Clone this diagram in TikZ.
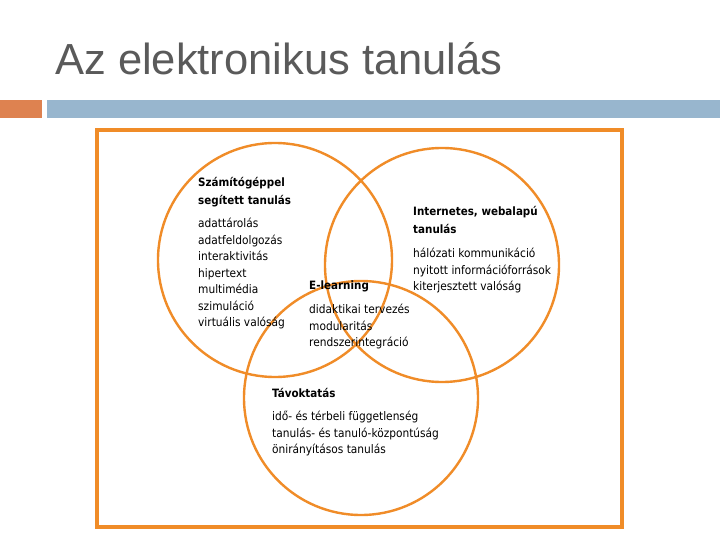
\documentclass[tikz,border=0pt]{standalone}
\usepackage{fontspec}
\setmainfont{Liberation Sans}
\newfontfamily\cond{DejaVu Sans Condensed}
\definecolor{frameor}{RGB}{240,140,40}
\definecolor{baror}{RGB}{222,130,80}
\definecolor{barbl}{RGB}{152,182,206}
\definecolor{titlegr}{RGB}{90,90,90}
\begin{document}
\begin{tikzpicture}[x=1pt,y=-1pt,
  circ/.style={draw=frameor,line width=2.4pt},
  txt/.style={anchor=north west,inner sep=0pt,align=left,font=\cond\fontsize{11.8}{16.5}\selectfont},
  head/.style={txt,font=\cond\bfseries\fontsize{11.5}{18}\selectfont}]
\useasboundingbox (0,0) rectangle (720,540);
\fill[white] (0,0) rectangle (720,540);
\node[anchor=base west,inner sep=0pt,text=titlegr,font=\fontsize{43.5}{48}\selectfont] (title) at (55,75) {Az elektronikus tanulás};
\fill[baror] (0,100) rectangle (42,118);
\fill[barbl] (47,100) rectangle (720,118);
\draw[frameor,line width=4pt] (97,130) rectangle (622,527);
\draw[circ] (275,260) circle (117);
\draw[circ] (442,265) circle (117);
\draw[circ] (361,398) circle (117);
\node[head] (h1) at (198,177) {Számítógéppel\\segített tanulás};
\node[txt] (l1) at (198,218) {adattárolás\\adatfeldolgozás\\interaktivitás\\hipertext\\multimédia\\szimuláció\\virtuális valóság};
\node[head] (h2) at (413,206) {Internetes, webalapú\\tanulás};
\node[txt] (l2) at (413,248) {hálózati kommunikáció\\nyitott információforrások\\kiterjesztett valóság};
\node[head] (h3) at (309,281) {E-learning};
\node[txt] (l3) at (309,304) {didaktikai tervezés\\modularitás\\rendszerintegráció};
\node[head] (h4) at (272,388) {Távoktatás};
\node[txt] (l4) at (272,411) {idő- és térbeli függetlenség\\tanulás- és tanuló-központúság\\önirányításos tanulás};
\end{tikzpicture}
\end{document}
